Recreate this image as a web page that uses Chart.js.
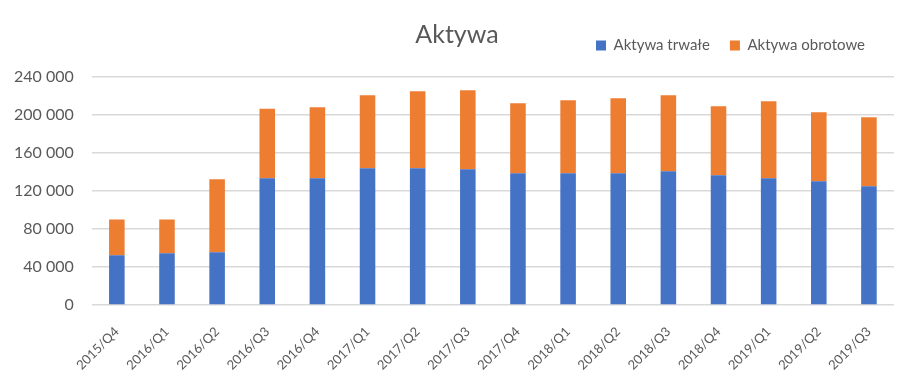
<!DOCTYPE html>
<html>
<head>
<meta charset="utf-8">
<script src="https://cdn.jsdelivr.net/npm/chart.js@4.4.1/dist/chart.umd.min.js"></script>
<style>
  html, body { margin: 0; padding: 0; background: #ffffff; }
  #wrap { width: 916px; height: 381px; position: relative; }
</style>
</head>
<body>
<div id="wrap"><canvas id="c"></canvas></div>
<script>
const categories = ["2015/Q4","2016/Q1","2016/Q2","2016/Q3","2016/Q4","2017/Q1","2017/Q2","2017/Q3","2017/Q4","2018/Q1","2018/Q2","2018/Q3","2018/Q4","2019/Q1","2019/Q2","2019/Q3"];
const aktywaTrwale = [52300, 54400, 55500, 133400, 133400, 143900, 143900, 142800, 138600, 138600, 138600, 140700, 136500, 133400, 130200, 124900];
const aktywaObrotowe = [37600, 35500, 76800, 73300, 74700, 76800, 81000, 83200, 73700, 76900, 79000, 80000, 72700, 81000, 72600, 72700];
const yTicks = [0, 40000, 80000, 120000, 160000, 200000, 240000];
const chartTitle = "Aktywa";
const seriesNames = ["Aktywa trwałe", "Aktywa obrotowe"];

const FONT = "Lato, 'Open Sans', sans-serif";
const GRAY = "#595959";

const titlePlugin = {
  id: 'customTitle',
  afterDraw(chart) {
    const ctx = chart.ctx;
    ctx.save();
    ctx.font = "25px " + FONT;
    ctx.fillStyle = GRAY;
    ctx.textAlign = "center";
    ctx.textBaseline = "alphabetic";
    ctx.fillText(chartTitle, chart.width / 2 - 1, 43);
    ctx.restore();
  }
};
const legendTweak = {
  id: 'legendTweak',
  beforeInit(chart) {
    const legend = chart.legend;
    const origFit = legend.fit;
    legend.fit = function () {
      origFit.call(this);
      this.height += 14;
    };
  },
  afterLayout(chart) {
    chart.legend.left -= 9;
    chart.legend.right -= 9;
  }
};

new Chart(document.getElementById('c'), {
  type: 'bar',
  data: {
    labels: categories,
    datasets: [
      { label: seriesNames[0], data: aktywaTrwale, backgroundColor: '#4472C4', barPercentage: 0.31, categoryPercentage: 1 },
      { label: seriesNames[1], data: aktywaObrotowe, backgroundColor: '#ED7D31', barPercentage: 0.31, categoryPercentage: 1 }
    ]
  },
  plugins: [titlePlugin, legendTweak],
  options: {
    responsive: true,
    maintainAspectRatio: false,
    animation: false,
    layout: { padding: { top: 18, left: -4, right: 22, bottom: 0 } },
    plugins: {
      title: { display: false },
      tooltip: { enabled: false },
      legend: {
        position: 'top',
        align: 'end',
        labels: {
          boxWidth: 10, boxHeight: 10, padding: 20,
          color: GRAY,
          font: { family: FONT, size: 15 }
        }
      }
    },
    scales: {
      x: {
        stacked: true,
        grid: { display: false },
        border: { display: false },
        afterFit(axis) { axis.paddingLeft = 0; axis.paddingRight = 0; axis.height = 76; },
        ticks: {
          color: GRAY, font: { family: FONT, size: 13 },
          minRotation: 45, maxRotation: 45, padding: 11
        }
      },
      y: {
        stacked: true,
        min: 0, max: 240000,
        afterBuildTicks(axis) { axis.ticks = yTicks.map(v => ({ value: v })); },
        grid: { color: '#d9d9d9', lineWidth: 1.5, drawTicks: false },
        border: { display: false },
        ticks: {
          color: GRAY, font: { family: FONT, size: 16 }, padding: 18,
          callback: v => String(v).replace(/\B(?=(\d{3})+(?!\d))/g, ' ')
        }
      }
    }
  }
});
</script>
</body>
</html>
